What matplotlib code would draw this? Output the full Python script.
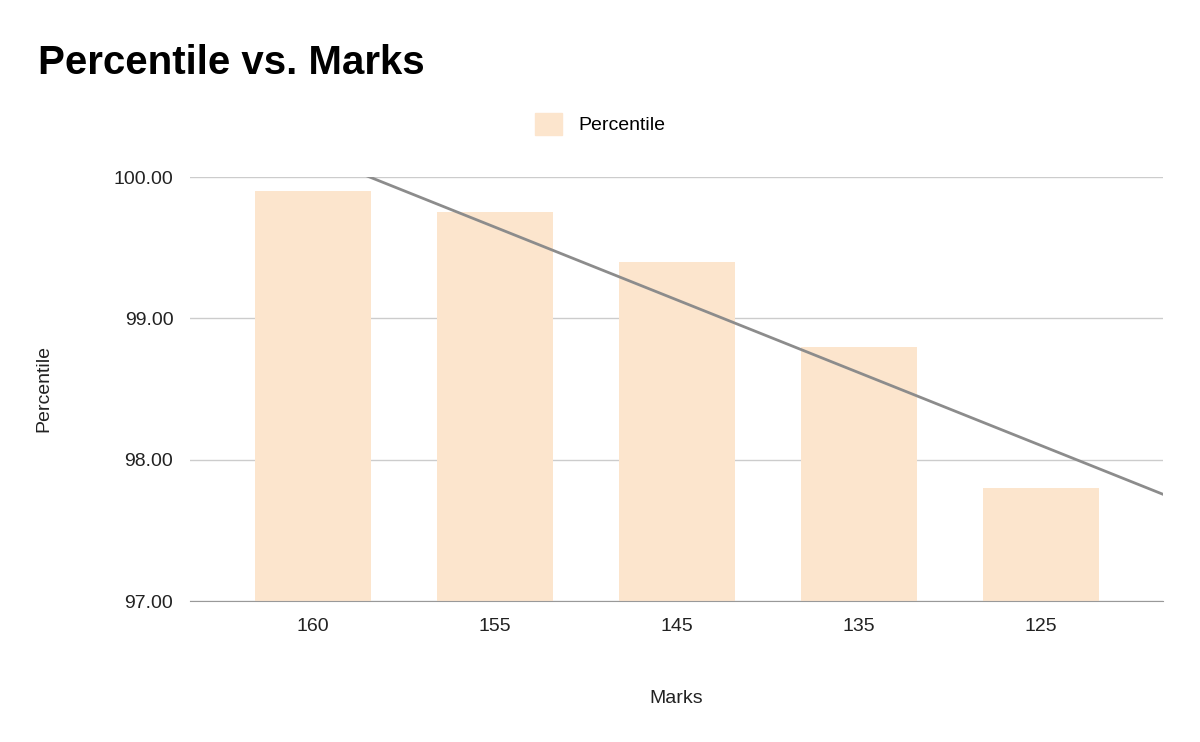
import matplotlib
matplotlib.use("Agg")
import matplotlib.pyplot as plt
import numpy as np
from matplotlib.patches import Patch

plt.rcParams['font.family'] = ['Liberation Sans', 'DejaVu Sans']

marks = ["160", "155", "145", "135", "125"]
percentile = [99.90, 99.75, 99.40, 98.80, 97.80]
yticks = [97.0, 98.0, 99.0, 100.0]

fig = plt.figure(figsize=(12, 7.42), dpi=100)
ax = fig.add_axes([190/1200, 1-601/742, (1163-190)/1200, (601-177)/742])
x = np.arange(len(marks))
ax.bar(x, percentile, width=0.64, color='#fce5cd', zorder=2)
k, b = np.polyfit(x, percentile, 1)
xl = np.array([-0.676, 4.67])
ax.plot(xl, k*xl+b, color='#8c8c8c', lw=2, zorder=3)
ax.set_xlim(xl)
ax.set_ylim(97, 100)
ax.set_yticks(yticks)
ax.set_yticklabels([f"{t:.2f}" for t in yticks])
ax.set_xticks(x)
ax.set_xticklabels(marks)
ax.grid(axis='y', color='#cccccc', lw=1, zorder=0)
for s in ['top', 'right', 'left']:
    ax.spines[s].set_visible(False)
ax.spines['bottom'].set_color('#999999')
ax.tick_params(length=0, labelsize=14, colors='#222222', pad=12)
ax.set_xlabel("Marks", fontsize=14, labelpad=40, color='#222222')
ax.set_ylabel("Percentile", fontsize=14, labelpad=44, color='#222222')
fig.text(38/1200, 1-63/742, "Percentile vs. Marks", fontsize=29, fontweight='bold', va='center')
fig.legend(handles=[Patch(color='#fce5cd', label='Percentile')], loc='center',
           bbox_to_anchor=(600/1200, 1-124/742), frameon=False, fontsize=14,
           handlelength=1.4, handleheight=1.4)
fig.savefig("out.png", dpi=100)
